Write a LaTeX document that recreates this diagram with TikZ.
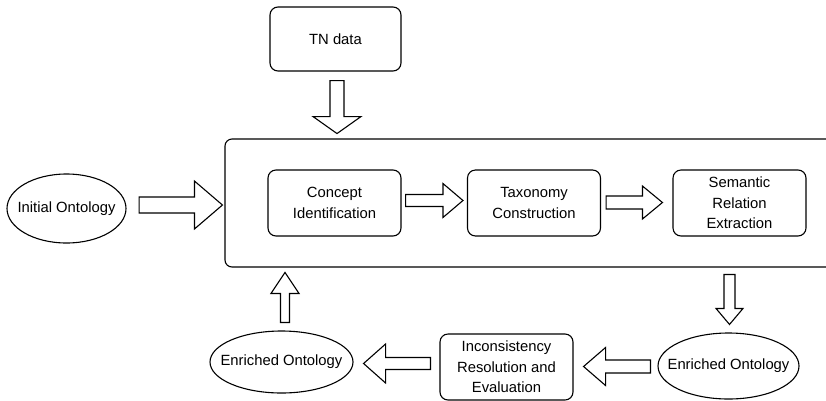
\documentclass[tikz,border=0pt]{standalone}
\usepackage{fontspec}
\setmainfont{Liberation Sans}
\usetikzlibrary{calc,shapes.geometric}

% horizontal block arrow: tail, tip, shaft half-width, head half-width, signed head length
\newcommand{\hblock}[5]{%
  \draw[blk] let \p1=(#1), \p2=(#2) in
    ({\x1},{\y1+#3}) -- ({\x2-(#5)},{\y1+#3}) -- ({\x2-(#5)},{\y1+#4}) -- ({\x2},{\y1})
    -- ({\x2-(#5)},{\y1-#4}) -- ({\x2-(#5)},{\y1-#3}) -- ({\x1},{\y1-#3}) -- cycle;}
% vertical block arrow: tail, tip, shaft half-width, head half-width, signed head length
\newcommand{\vblock}[5]{%
  \draw[blk] let \p1=(#1), \p2=(#2) in
    ({\x1+#3},{\y1}) -- ({\x1+#3},{\y2+(#5)}) -- ({\x1+#4},{\y2+(#5)}) -- ({\x1},{\y2})
    -- ({\x1-#4},{\y2+(#5)}) -- ({\x1-#3},{\y2+(#5)}) -- ({\x1-#3},{\y1}) -- cycle;}

\begin{document}
\begin{tikzpicture}[x=1pt,y=-1pt,
  every node/.style={font=\fontsize{14.8}{20.5}\selectfont, text=black},
  proc/.style={draw=black, line width=1.1pt, rounded corners=8pt, align=center,
    minimum width=133pt, minimum height=66pt, inner sep=0pt},
  onto/.style={draw=black, line width=1.1pt, ellipse, inner xsep=-20pt, inner ysep=-12pt},
  blk/.style={draw=black, line width=1.1pt, fill=white, line join=miter},
  frame/.style={draw=black, line width=1.1pt, rounded corners=7pt}]

\useasboundingbox (0,0) rectangle (826,400);

% outer processing frame, running off the right edge
\begin{scope}
  \clip (0,0) rectangle (826,400);
  \node[frame, minimum width=625pt, minimum height=128pt, inner sep=0pt]
    (frame) at (537.5,203) {};
\end{scope}

% boxes and ontologies
\node[proc, minimum width=131pt, minimum height=64pt] (tn) at (335.5,39) {TN data};
\node[onto, minimum width=119pt, minimum height=69pt] (init) at (66.5,208.5) {Initial Ontology};
\node[proc] (concept) at (334.5,203) {Concept\\Identification};
\node[proc] (tax) at (534,203) {Taxonomy\\Construction};
\node[proc] (sem) at (739.5,203) {Semantic\\Relation\\Extraction};
\node[onto, minimum width=141pt, minimum height=66pt] (enr2) at (728.5,366) {Enriched Ontology};
\node[proc, minimum height=66pt] (incons) at (506.5,367) {Inconsistency\\Resolution and\\Evaluation};
\node[onto, minimum width=143pt, minimum height=62pt] (enr1) at (281.5,362) {Enriched Ontology};

% arrow end points
\coordinate (a1s) at ($(tn.south)+(1.5,9)$);
\coordinate (a1e) at ($(tn.south)+(1.5,62)$);
\coordinate (a2s) at ($(init.east)+(12.5,-3.5)$);
\coordinate (a2e) at ($(frame.west)+(-2,2)$);
\coordinate (a3s) at ($(concept.east)+(4,-2.5)$);
\coordinate (a3e) at ($(tax.west)+(-4,-2.5)$);
\coordinate (a4s) at ($(tax.east)+(5,-0.5)$);
\coordinate (a4e) at ($(sem.west)+(-10,-0.5)$);
\coordinate (a5s) at ($(enr2.north)+(1,-58)$);
\coordinate (a5e) at ($(enr2.north)+(1,-8)$);
\coordinate (a6s) at ($(enr2.west)+(-7,0.5)$);
\coordinate (a6e) at ($(incons.east)+(10,-0.5)$);
\coordinate (a7s) at ($(incons.west)+(-9,-3.5)$);
\coordinate (a7e) at ($(enr1.east)+(10,1.5)$);
\coordinate (a8s) at ($(enr1.north)+(3.5,-8)$);
\coordinate (a8e) at ($(enr1.north)+(3.5,-58)$);

% block arrows
\vblock{a1s}{a1e}{7pt}{24pt}{17pt}
\hblock{a2s}{a2e}{8pt}{24pt}{28pt}
\hblock{a3s}{a3e}{6pt}{17pt}{20pt}
\hblock{a4s}{a4e}{6.5pt}{16.5pt}{20pt}
\vblock{a5s}{a5e}{5.5pt}{13.5pt}{16pt}
\hblock{a6s}{a6e}{6.5pt}{19pt}{-22pt}
\hblock{a7s}{a7e}{6pt}{19.5pt}{-22pt}
\vblock{a8s}{a8e}{4.5pt}{14pt}{-21pt}
\end{tikzpicture}
\end{document}
